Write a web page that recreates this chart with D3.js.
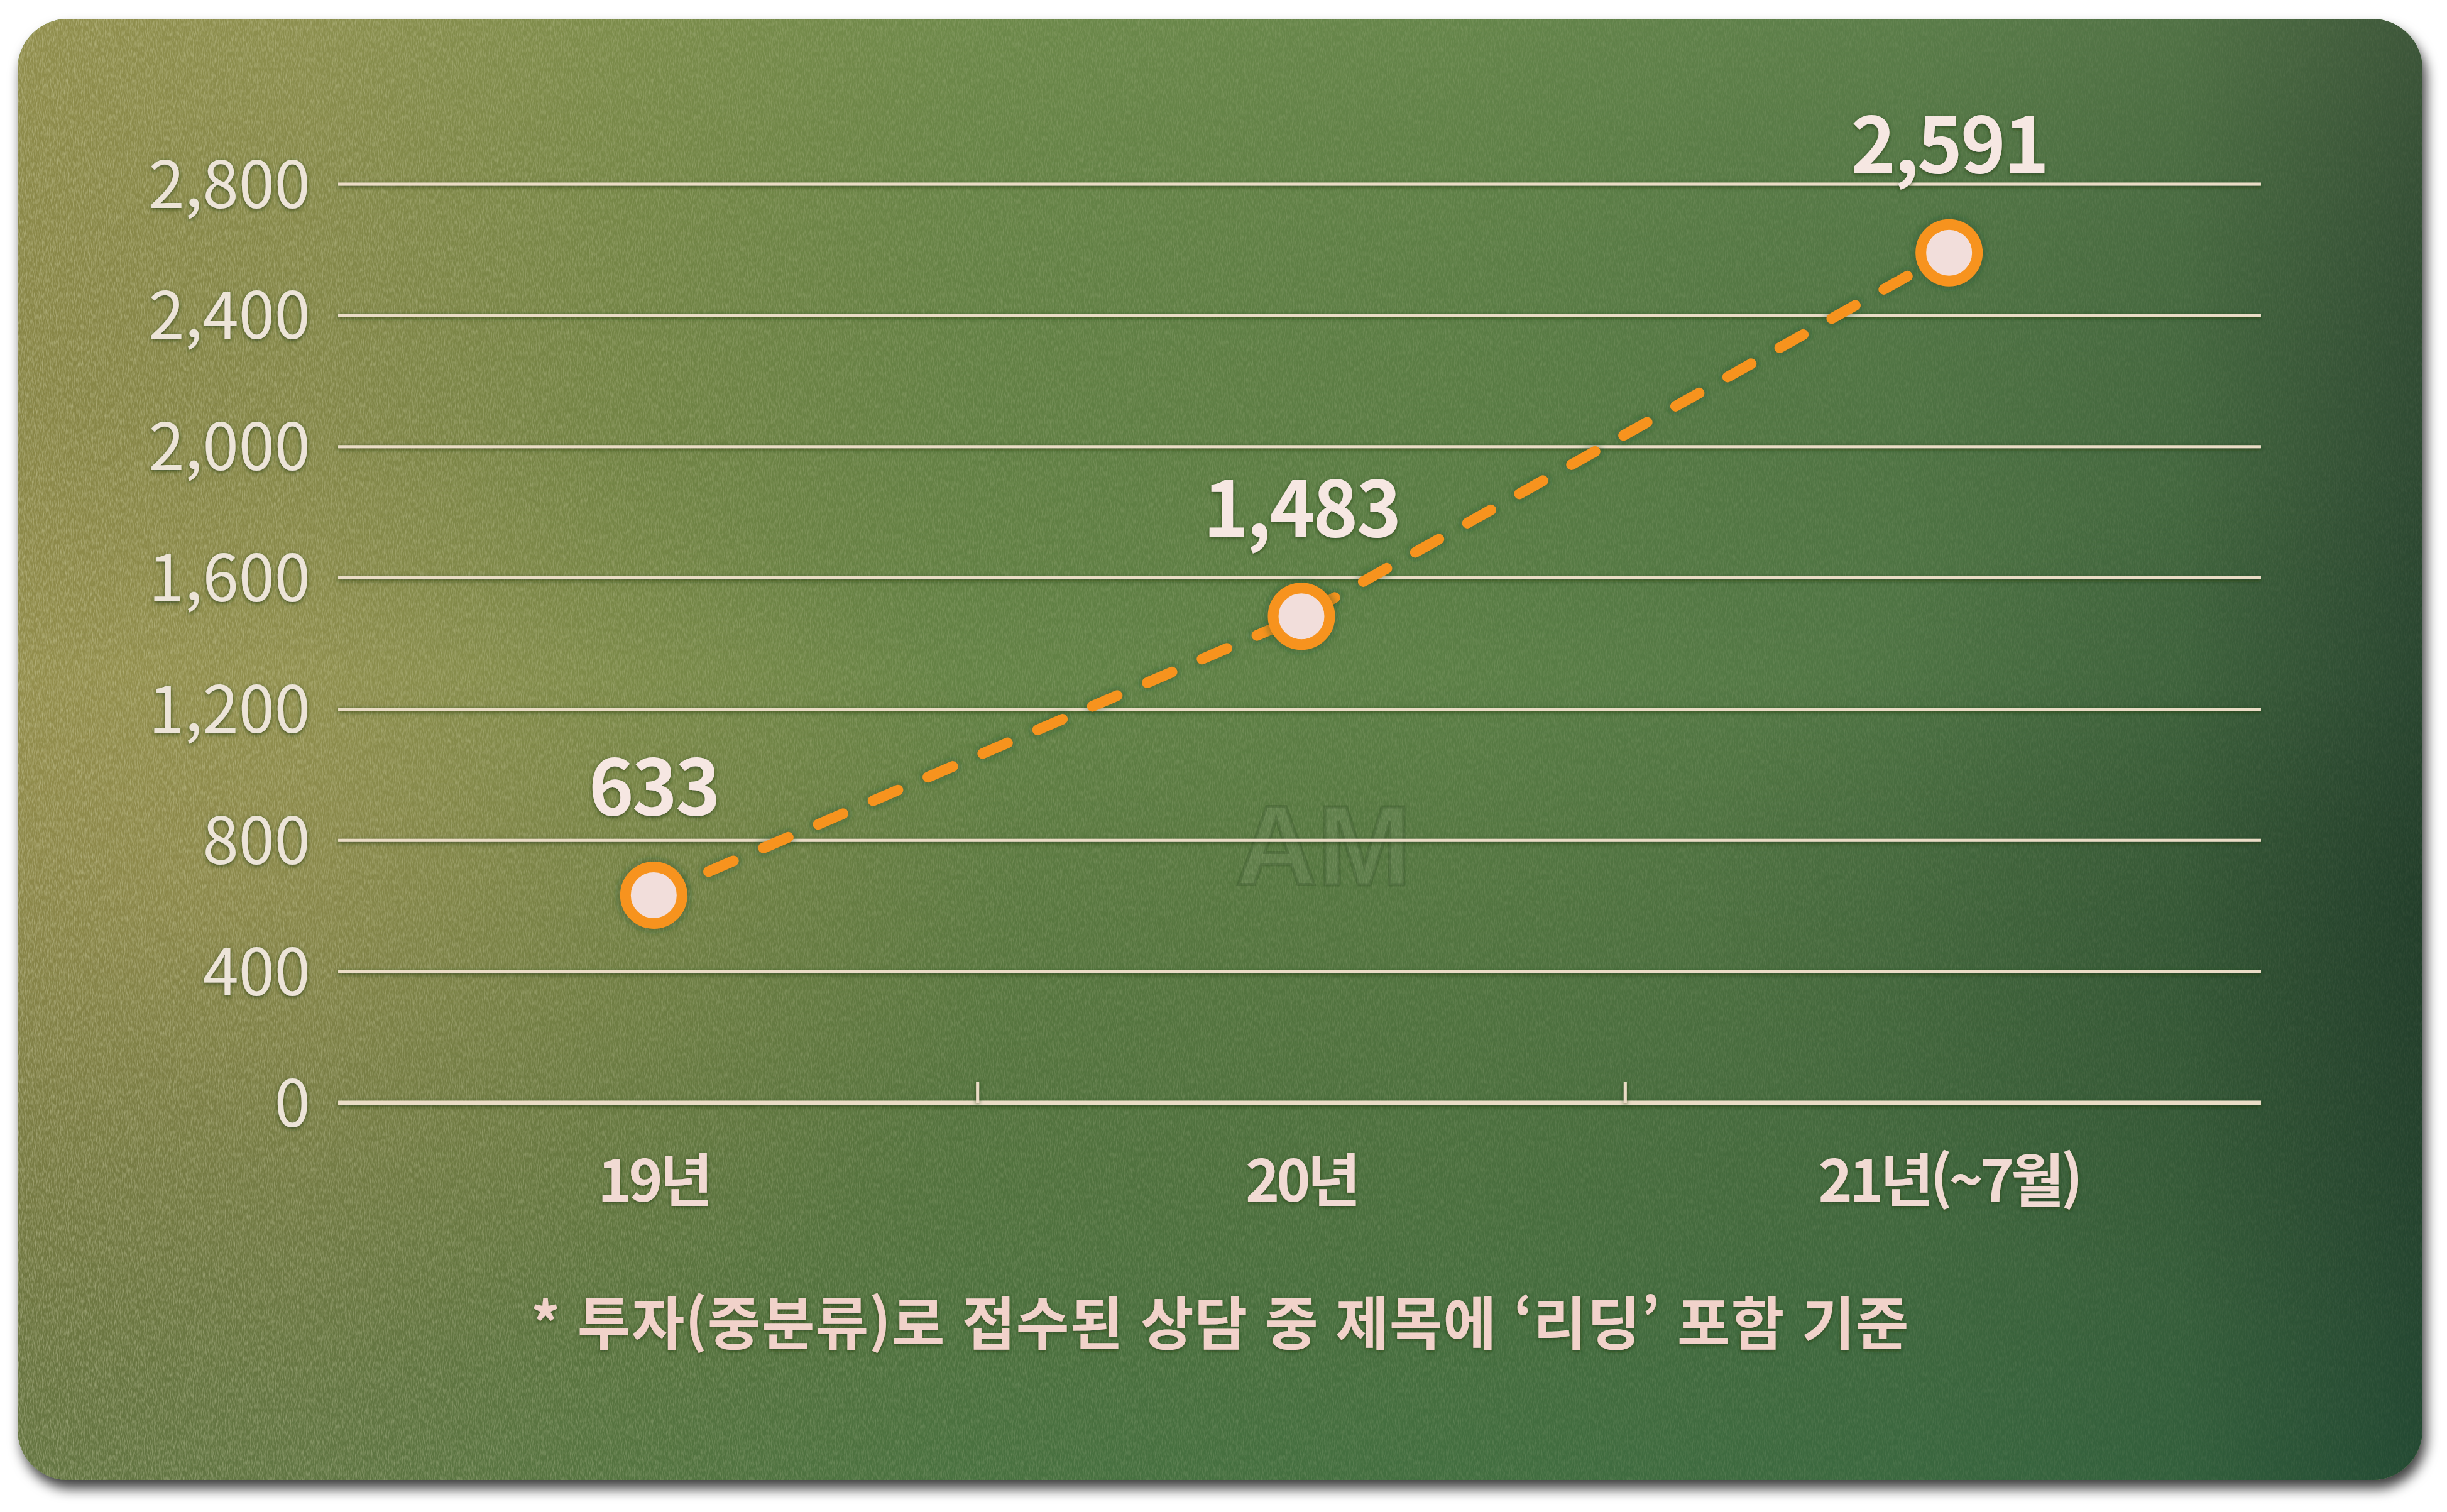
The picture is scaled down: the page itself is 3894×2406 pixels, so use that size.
<!DOCTYPE html>
<html lang="ko">
<head>
<meta charset="utf-8">
<script src="https://cdn.jsdelivr.net/npm/d3@7"></script>
<style>
  html, body { margin: 0; padding: 0; background: #ffffff; }
  svg { display: block; }
</style>
</head>
<body>
<svg id="chart" width="3894" height="2406"></svg>
<script>
// ---- data ----
const categories = ["19년", "20년", "21년(~7월)"];
const values = [633, 1483, 2591];
const yTicks = [0, 400, 800, 1200, 1600, 2000, 2400, 2800];
const footnote = "* 투자(중분류)로 접수된 상담 중 제목에 ‘리딩’ 포함 기준";
const watermark = "AM";

// ---- layout ----
const W = 3894, H = 2406;
const card = { x: 28, y: 30, w: 3827, h: 2325, r: 80 };
const plot = { left: 538, right: 3598, top: 293, bottom: 1755 };

const svg = d3.select("#chart");
const defs = svg.append("defs");

// card gradients
const lg = defs.append("linearGradient").attr("id", "bgH").attr("x1", "0").attr("x2", "1").attr("y1", "0").attr("y2", "0");
[["0", "#8b8848"], ["0.12", "#86894a"], ["0.25", "#748646"], ["0.40", "#638245"],
 ["0.60", "#5a7e45"], ["0.78", "#4f7544"], ["0.90", "#43683f"], ["1", "#2e4a33"]]
  .forEach(([o, c]) => lg.append("stop").attr("offset", o).attr("stop-color", c));

const vg = defs.append("linearGradient").attr("id", "bgV").attr("x1", "0").attr("x2", "0").attr("y1", "0").attr("y2", "1");
vg.append("stop").attr("offset", "0").attr("stop-color", "#c8c878").attr("stop-opacity", 0.10);
vg.append("stop").attr("offset", "0.45").attr("stop-color", "#000000").attr("stop-opacity", 0);
vg.append("stop").attr("offset", "1").attr("stop-color", "#0a4a34").attr("stop-opacity", 0.30);

const rg = defs.append("radialGradient").attr("id", "glow").attr("cx", "0.07").attr("cy", "0.6").attr("r", "0.35");
rg.append("stop").attr("offset", "0").attr("stop-color", "#b8a860").attr("stop-opacity", 0.35);
rg.append("stop").attr("offset", "1").attr("stop-color", "#b8a860").attr("stop-opacity", 0);

const rg2 = defs.append("radialGradient").attr("id", "vig").attr("cx", "1").attr("cy", "0.6").attr("r", "0.3");
rg2.append("stop").attr("offset", "0").attr("stop-color", "#0d2a1c").attr("stop-opacity", 0.25);
rg2.append("stop").attr("offset", "1").attr("stop-color", "#0d2a1c").attr("stop-opacity", 0);

// noise
const nf = defs.append("filter").attr("id", "noise").attr("x", "0").attr("y", "0").attr("width", "100%").attr("height", "100%");
nf.append("feTurbulence").attr("type", "fractalNoise").attr("baseFrequency", "0.55 0.12").attr("numOctaves", 2).attr("seed", 3).attr("result", "t");
nf.append("feColorMatrix").attr("in", "t").attr("type", "matrix")
  .attr("values", "0 0 0 0 0.85  0 0 0 0 0.85  0 0 0 0 0.6  0 0 0 -2.2 1.35");

const nm = defs.append("linearGradient").attr("id", "noiseMaskG").attr("x1", "0").attr("x2", "1");
nm.append("stop").attr("offset", "0").attr("stop-color", "#fff").attr("stop-opacity", 1);
nm.append("stop").attr("offset", "0.35").attr("stop-color", "#fff").attr("stop-opacity", 0.5);
nm.append("stop").attr("offset", "1").attr("stop-color", "#fff").attr("stop-opacity", 0.15);
defs.append("mask").attr("id", "noiseMask").append("rect")
  .attr("x", card.x).attr("y", card.y).attr("width", card.w).attr("height", card.h).attr("fill", "url(#noiseMaskG)");

defs.append("clipPath").attr("id", "cardClip").append("rect")
  .attr("x", card.x).attr("y", card.y).attr("width", card.w).attr("height", card.h).attr("rx", card.r);

const sh = defs.append("filter").attr("id", "cardShadow").attr("x", "-5%").attr("y", "-5%").attr("width", "110%").attr("height", "112%");
sh.append("feDropShadow").attr("dx", 6).attr("dy", 14).attr("stdDeviation", 10).attr("flood-color", "#000").attr("flood-opacity", 0.75);

const ts = defs.append("filter").attr("id", "txtShadow").attr("x", "-10%").attr("y", "-20%").attr("width", "120%").attr("height", "140%");
ts.append("feDropShadow").attr("dx", 0).attr("dy", 2).attr("stdDeviation", 3).attr("flood-color", "#1c3518").attr("flood-opacity", 0.7);

const halo = defs.append("filter").attr("id", "halo").attr("x", "-50%").attr("y", "-50%").attr("width", "200%").attr("height", "200%");
halo.append("feGaussianBlur").attr("stdDeviation", 5);

// ---- card ----
svg.append("rect").attr("x", card.x).attr("y", card.y).attr("width", card.w).attr("height", card.h)
  .attr("rx", card.r).attr("fill", "#587b44").attr("filter", "url(#cardShadow)");
const bg = svg.append("g").attr("clip-path", "url(#cardClip)");
bg.append("rect").attr("x", card.x).attr("y", card.y).attr("width", card.w).attr("height", card.h).attr("fill", "url(#bgH)");
bg.append("rect").attr("x", card.x).attr("y", card.y).attr("width", card.w).attr("height", card.h).attr("fill", "url(#glow)");
bg.append("rect").attr("x", card.x).attr("y", card.y).attr("width", card.w).attr("height", card.h).attr("fill", "url(#bgV)");
bg.append("rect").attr("x", card.x).attr("y", card.y).attr("width", card.w).attr("height", card.h).attr("fill", "url(#vig)");
bg.append("rect").attr("x", card.x).attr("y", card.y).attr("width", card.w).attr("height", card.h)
  .attr("filter", "url(#noise)").attr("mask", "url(#noiseMask)").attr("opacity", 0.35);

// ---- scales ----
const x = d3.scaleBand().domain(categories).range([525, 3617]).padding(0);
const y = d3.scaleLinear().domain([0, 2800]).range([plot.bottom, plot.top]);
const cx = d => x(d) + x.bandwidth() / 2;

const FONT = "'Noto Sans CJK KR', 'Noto Sans', sans-serif";

// watermark
svg.append("text").attr("x", 2106).attr("y", 1408).attr("text-anchor", "middle")
  .attr("font-family", "'Liberation Sans', Arial, sans-serif").attr("font-weight", 700).attr("font-size", 180)
  .attr("fill", "#ffffff").attr("fill-opacity", 0.05)
  .attr("stroke", "#1e3a18").attr("stroke-opacity", 0.22).attr("stroke-width", 5)
  .text(watermark);

// ---- grid lines ----
const grid = svg.append("g").attr("filter", "url(#txtShadow)");
grid.selectAll("line.grid").data(yTicks).join("line").attr("class", "grid")
  .attr("x1", plot.left).attr("x2", plot.right)
  .attr("y1", d => y(d)).attr("y2", d => y(d))
  .attr("stroke", "#eadcc6").attr("stroke-width", d => d === 0 ? 7 : 5);

// ---- y axis ----
const yAxis = svg.append("g").attr("transform", `translate(${plot.left},0)`)
  .call(d3.axisLeft(y).tickValues(yTicks).tickFormat(d3.format(",")).tickSize(0).tickPadding(44));
yAxis.select(".domain").remove();
yAxis.selectAll("text")
  .attr("font-family", FONT).attr("font-size", 103).attr("font-weight", 400)
  .attr("fill", "#ece4d8").attr("dy", "0.36em").attr("filter", "url(#txtShadow)");

// ---- x axis ----
const xAxis = svg.append("g").attr("transform", `translate(0,${plot.bottom})`)
  .call(d3.axisBottom(x).tickSize(0).tickPadding(0));
xAxis.select(".domain").remove();
xAxis.selectAll("text")
  .attr("font-family", FONT).attr("font-size", 92).attr("font-weight", 700)
  .attr("letter-spacing", -5)
  .attr("fill", "#f1dad3").attr("y", 157).attr("dy", null).attr("filter", "url(#txtShadow)");

// band separator ticks
svg.append("g").attr("filter", "url(#txtShadow)")
  .selectAll("line").data(categories.slice(1)).join("line")
  .attr("x1", d => x(d)).attr("x2", d => x(d))
  .attr("y1", plot.bottom).attr("y2", plot.bottom - 34)
  .attr("stroke", "#eadcc6").attr("stroke-width", 5);

// ---- series ----
const pts = categories.map((c, i) => ({ c, v: values[i] }));
const line = d3.line().x(d => cx(d.c)).y(d => y(d.v));

svg.append("path").datum(pts).attr("d", line)
  .attr("fill", "none").attr("stroke", "#1f4a2a").attr("stroke-opacity", 0.35)
  .attr("stroke-width", 24).attr("stroke-dasharray", "43 52").attr("stroke-linecap", "round")
  .attr("filter", "url(#halo)");
svg.append("path").datum(pts).attr("d", line)
  .attr("fill", "none").attr("stroke", "#f7931e")
  .attr("stroke-width", 17).attr("stroke-dasharray", "43 52").attr("stroke-linecap", "round");

const mk = svg.append("g");
mk.selectAll("circle.h").data(pts).join("circle").attr("class", "h")
  .attr("cx", d => cx(d.c)).attr("cy", d => y(d.v)).attr("r", 58)
  .attr("fill", "#1f4a2a").attr("fill-opacity", 0.35).attr("filter", "url(#halo)");
mk.selectAll("circle.m").data(pts).join("circle").attr("class", "m")
  .attr("cx", d => cx(d.c)).attr("cy", d => y(d.v)).attr("r", 45)
  .attr("fill", "#f2dedb").attr("stroke", "#f7931e").attr("stroke-width", 17);

// value labels
svg.append("g").selectAll("text").data(pts).join("text")
  .attr("x", d => cx(d.c)).attr("y", d => y(d.v) - 127)
  .attr("text-anchor", "middle")
  .attr("font-family", FONT).attr("font-size", 122).attr("font-weight", 700)
  .attr("letter-spacing", -3)
  .attr("fill", "#f6e7e2").attr("filter", "url(#txtShadow)")
  .text(d => d3.format(",")(d.v));

// footnote
svg.append("text").attr("x", card.x + card.w / 2).attr("y", 2140).attr("text-anchor", "middle")
  .attr("font-family", FONT).attr("font-size", 92).attr("font-weight", 700)
  .attr("letter-spacing", 1)
  .attr("fill", "#f1d2ca").attr("filter", "url(#txtShadow)")
  .text(footnote);
</script>
</body>
</html>
